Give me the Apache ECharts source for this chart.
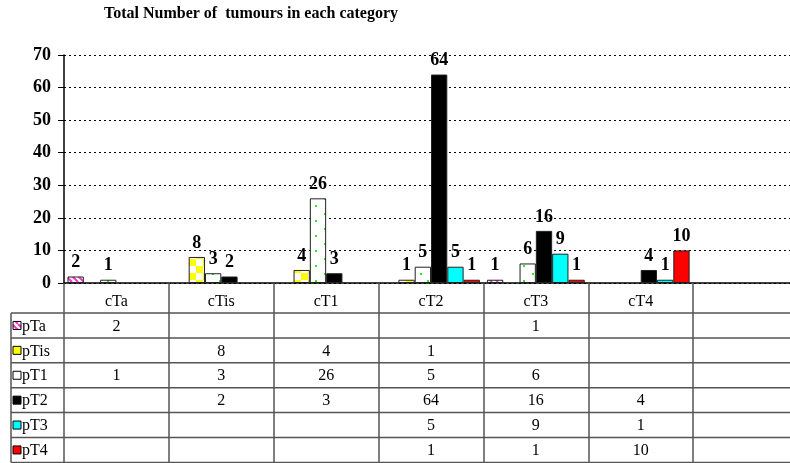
<!DOCTYPE html>
<html><head><meta charset="utf-8">
<script src="https://cdn.jsdelivr.net/npm/echarts@6/dist/echarts.min.js"></script>
<style>html,body{margin:0;padding:0;background:#fff;overflow:hidden;width:790px;height:463px}#c{width:800px;height:463px}</style>
</head><body><div id="c"></div>
<script>
const categories = ['cTa', 'cTis', 'cT1', 'cT2', 'cT3', 'cT4', ''];
const seriesNames = ['pTa', 'pTis', 'pT1', 'pT2', 'pT3', 'pT4'];
const pTa  = [2, null, null, null, 1, null, null];
const pTis = [null, 8, 4, 1, null, null, null];
const pT1  = [1, 3, 26, 5, 6, null, null];
const pT2  = [null, 2, 3, 64, 16, 4, null];
const pT3  = [null, null, null, 5, 9, 1, null];
const pT4  = [null, null, null, 1, 1, 10, null];
const yTicks = [0, 10, 20, 30, 40, 50, 60, 70];
const title = 'Total Number of  tumours in each category';

const FONT = '"Liberation Serif", "Times New Roman", serif';

function pattern(kind) {
  const c = document.createElement('canvas');
  let ctx;
  if (kind === 'stripe') {
    c.width = 6; c.height = 6; ctx = c.getContext('2d');
    ctx.fillStyle = '#fff'; ctx.fillRect(0, 0, 6, 6);
    ctx.strokeStyle = '#ff33cc'; ctx.lineWidth = 2;
    for (const k of [-6, 0, 6]) { ctx.beginPath(); ctx.moveTo(k, 0); ctx.lineTo(k + 6, 6); ctx.stroke(); }
  } else if (kind === 'checker') {
    c.width = 14; c.height = 14; ctx = c.getContext('2d');
    ctx.fillStyle = '#fff'; ctx.fillRect(0, 0, 14, 14);
    ctx.fillStyle = '#ffff00'; ctx.fillRect(0, 0, 7, 7); ctx.fillRect(7, 7, 7, 7);
  } else if (kind === 'dots') {
    c.width = 16; c.height = 15; ctx = c.getContext('2d');
    ctx.fillStyle = '#fff'; ctx.fillRect(0, 0, 16, 15);
    ctx.fillStyle = '#22ee22'; ctx.fillRect(4, 3, 2, 2); ctx.fillRect(11, 10, 2, 2);
  }
  return { image: c, repeat: 'repeat' };
}

const fills = [pattern('stripe'), pattern('checker'), pattern('dots'), '#000000', '#00ffff', '#ff0000'];
const iconFills = [pattern('stripe'), '#ffff00', '#ffffff', '#000000', '#00ffff', '#ff0000'];
const values = [pTa, pTis, pT1, pT2, pT3, pT4];

const chart = echarts.init(document.getElementById('c'), null, { renderer: 'canvas' });

const GRID_LEFT = 64, GRID_TOP = 55, GRID_W = 734, GRID_H = 228;
const HEADER_H = 30, ROW_H = 24.9;
const TABLE_LEFT = 11;

chart.setOption({
  animation: false,
  backgroundColor: '#fff',
  title: {
    text: title, left: 99, top: 1,
    textStyle: { fontFamily: FONT, fontWeight: 'bold', fontSize: 16, color: '#000' }
  },
  grid: { left: GRID_LEFT, top: GRID_TOP, width: GRID_W, height: GRID_H },
  xAxis: {
    type: 'category', data: categories,
    axisLine: { lineStyle: { color: '#000', width: 1.5 } },
    axisTick: { show: true, length: 180, lineStyle: { color: '#555', width: 1.5 } },
    axisLabel: { fontFamily: FONT, fontSize: 16, color: '#000', margin: 11, interval: 0 },
    splitLine: { show: false }
  },
  yAxis: {
    type: 'value', min: 0, max: 70, interval: 10,
    axisLine: { show: true, lineStyle: { color: '#000', width: 1.5 } },
    axisTick: { show: true, length: 6, lineStyle: { color: '#000' } },
    axisLabel: { fontFamily: FONT, fontSize: 18, fontWeight: 'bold', color: '#000', margin: 13,
      formatter: v => yTicks.includes(v) ? String(v) : '' },
    splitLine: { show: true, lineStyle: { color: '#000', type: [2, 3], width: 1 } }
  },
  series: seriesNames.map((name, i) => ({
    name, type: 'bar', data: values[i],
    barGap: '0%', barCategoryGap: '6.7%',
    itemStyle: { color: fills[i], borderColor: '#222', borderWidth: 1 },
    label: { show: true, position: 'top', distance: 5, fontFamily: FONT, fontSize: 18,
      fontWeight: 'bold', color: '#000' }
  }))
});

// data table beneath the chart
const gfx = [];
const rightEdge = 800;
for (let r = 0; r <= seriesNames.length; r++) {
  const y = GRID_TOP + GRID_H + HEADER_H + r * ROW_H;
  gfx.push({ type: 'line', shape: { x1: TABLE_LEFT, y1: y, x2: rightEdge, y2: y },
    style: { stroke: '#555', lineWidth: 1.5 }, z: 10 });
}
const tableTop = GRID_TOP + GRID_H + HEADER_H;
gfx.push({ type: 'line', shape: { x1: TABLE_LEFT, y1: tableTop, x2: TABLE_LEFT, y2: tableTop + ROW_H * 6 },
  style: { stroke: '#555', lineWidth: 1.5 }, z: 10 });
seriesNames.forEach((name, r) => {
  const cy = tableTop + (r + 0.5) * ROW_H;
  gfx.push({ type: 'rect', shape: { x: 13, y: cy - 4, width: 8, height: 8 },
    style: { fill: iconFills[r], stroke: '#000', lineWidth: 1 }, z: 11 });
  gfx.push({ type: 'text', x: 22, y: cy + 1, style: { text: name, font: '16px ' + FONT,
    fill: '#000', textVerticalAlign: 'middle', verticalAlign: 'middle' }, z: 11 });
  values[r].forEach((v, ci) => {
    if (v === null) return;
    const px = chart.convertToPixel({ xAxisIndex: 0 }, ci);
    gfx.push({ type: 'text', x: px, y: cy + 1, style: { text: String(v), font: '16px ' + FONT,
      fill: '#000', align: 'center', textAlign: 'center', verticalAlign: 'middle', textVerticalAlign: 'middle' }, z: 11 });
  });
});
chart.setOption({ graphic: gfx });
</script></body></html>
